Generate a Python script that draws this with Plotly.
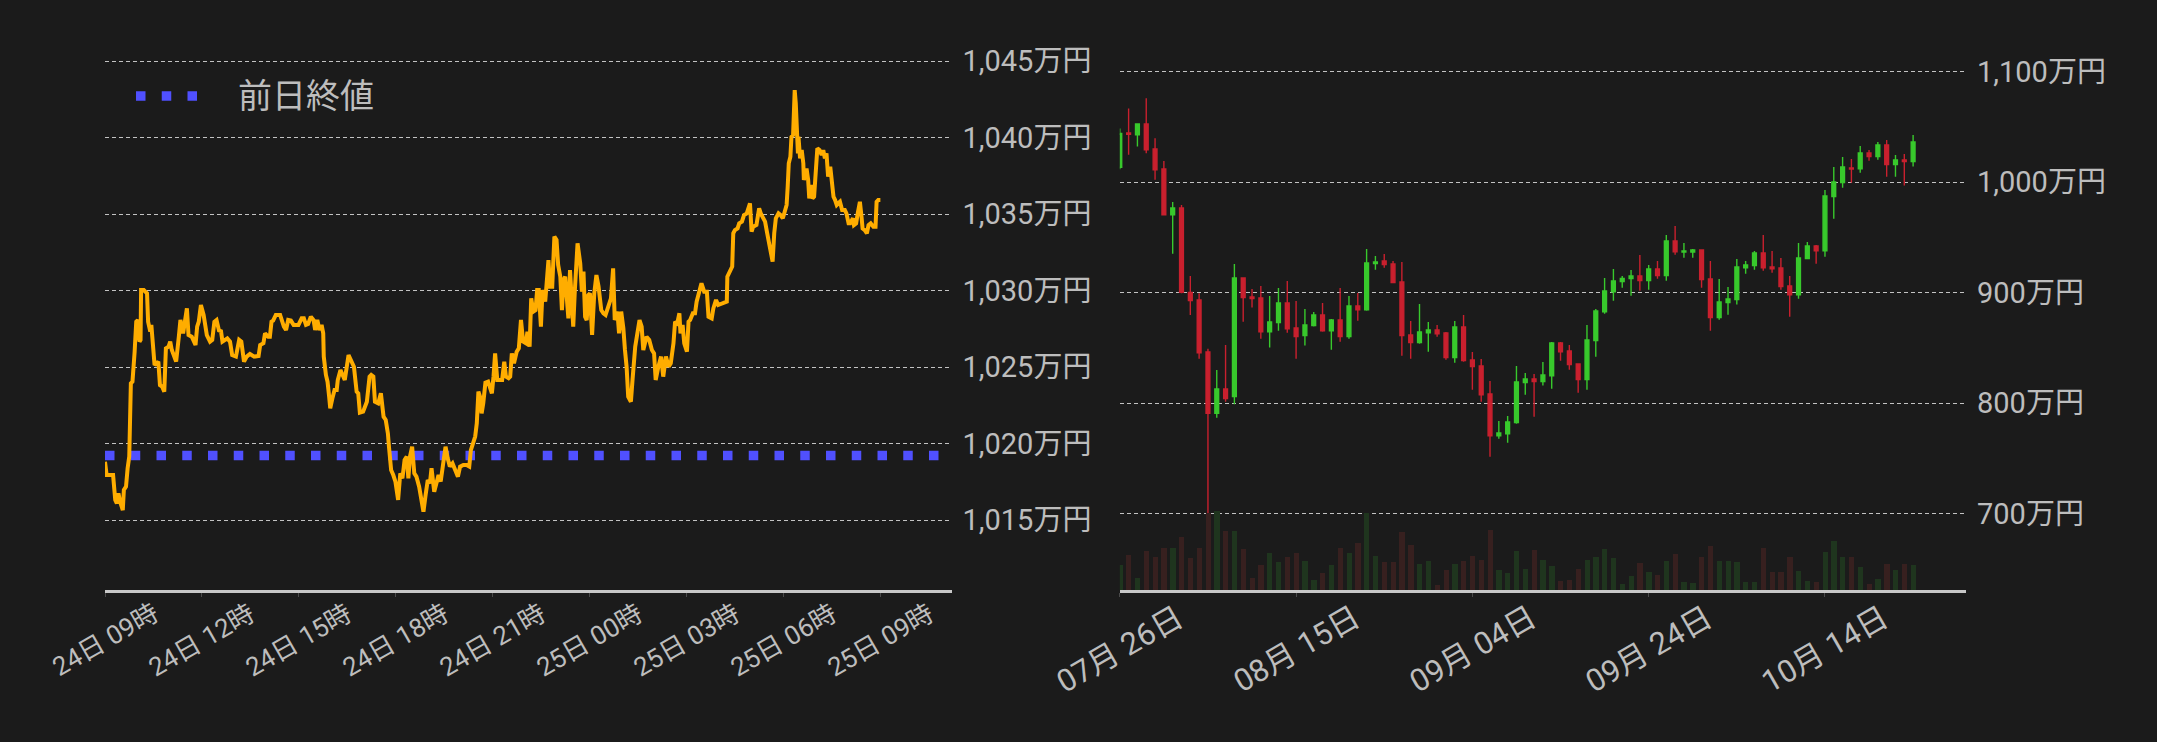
import pandas as pd
import plotly.graph_objects as go

# ---------------- left: intraday price (万円) ----------------
intraday_start = "2024-10-24 09:00"
intraday_minutes = [0, 3, 15, 19, 22, 25, 28, 33, 35, 39, 42, 45, 48, 51, 55, 58, 61, 64, 66, 67, 72, 78, 80, 82, 84, 86, 89, 92, 99, 102, 106, 110, 113, 118, 121, 124, 132, 134, 137, 140, 145, 152, 155, 161, 168, 171, 174, 178, 183, 189, 195, 199, 203, 207, 212, 215, 218, 227, 232, 236, 243, 249, 253, 258, 263, 269, 277, 285, 288, 294, 297, 303, 306, 309, 312, 317, 325, 332, 336, 340, 345, 350, 359, 365, 369, 373, 377, 382, 387, 390, 394, 398, 402, 405, 406, 410, 413, 416, 418, 422, 426, 430, 432, 437, 445, 452, 456, 462, 467, 470, 473, 479, 486, 491,
    494, 498, 501, 507, 512, 517, 521, 525, 527, 531, 535, 539, 544, 548, 552, 556, 560, 563, 566, 570, 574, 578, 583, 588, 591, 595, 599, 603, 606, 611, 614, 619, 623, 626, 629, 632, 636, 640, 645, 650, 655, 659, 665, 671, 676, 679, 687, 690, 693, 696, 699, 702, 706, 711, 718, 721, 724, 728, 733, 737, 741, 744, 749, 752, 755, 759, 764, 768, 772, 776, 781, 784, 788, 791, 795, 799, 802, 805, 809, 812, 817, 820, 823, 826, 830, 834, 838, 841, 845, 848, 851, 854, 857, 860, 863, 866, 869, 872, 877, 882, 885, 888, 891, 894, 897, 900, 904, 908, 912, 916, 921, 925, 929, 934, 939, 943, 946, 951, 954, 958, 962, 965, 968, 971, 976, 979, 984,
    992, 996, 999, 1005, 1010, 1015, 1019, 1022, 1027, 1032, 1036, 1041, 1046, 1050, 1055, 1058, 1062, 1066, 1068, 1072, 1075, 1080, 1083, 1086, 1091, 1095, 1098, 1103, 1107, 1112, 1117, 1120, 1126, 1129, 1134, 1138, 1145, 1149, 1154, 1155, 1160, 1164, 1166, 1169, 1174, 1177, 1182, 1186, 1191, 1194, 1197, 1200, 1203, 1209, 1214, 1217, 1222, 1225, 1229, 1234, 1239, 1242, 1245, 1250, 1254, 1258, 1262, 1265,
    1267, 1269, 1272, 1274, 1277, 1280, 1282, 1284, 1286, 1287, 1290, 1293, 1296, 1297, 1302, 1305, 1307, 1310, 1313, 1316, 1319, 1322, 1326, 1330, 1333, 1336, 1339, 1342, 1346, 1349, 1352, 1355, 1358, 1361, 1364, 1368, 1373, 1376, 1380, 1383, 1388, 1390, 1394, 1397, 1401, 1404, 1406, 1410, 1414, 1417, 1421, 1426, 1430, 1432, 1435, 1439]
intraday_price = [1018.83, 1017.96, 1017.96, 1016.33, 1016.11, 1016.76, 1016.22, 1015.67, 1016.98, 1017.20, 1018.40, 1019.16, 1023.95, 1024.06, 1026.02, 1027.98, 1028.09, 1026.68, 1026.79, 1030.05, 1030.05, 1029.84, 1027.98, 1027.66, 1027.33, 1027.77, 1026.35, 1025.15, 1025.37, 1023.84, 1023.74, 1023.41, 1026.24, 1026.35, 1026.68, 1026.13, 1025.37, 1026.35, 1027.00, 1028.09, 1027.22, 1028.85, 1027.11, 1027.00, 1026.46, 1027.66, 1027.98, 1029.07, 1028.42, 1027.11, 1026.68, 1026.79, 1027.98, 1028.09, 1027.33, 1027.44, 1026.68, 1026.89, 1026.68, 1025.80, 1025.70, 1026.79, 1026.68, 1025.37, 1025.70, 1025.87, 1025.70, 1025.74, 1026.46, 1026.57, 1027.22, 1027.00, 1027.00, 1027.98, 1028.05, 1028.42, 1028.42, 1027.66, 1027.44, 1028.09, 1028.05, 1027.77, 1027.77, 1028.20, 1028.20, 1027.77, 1027.83, 1028.31, 1028.09, 1027.44, 1028.09, 1027.44, 1027.77, 1027.22, 1025.70, 1024.50, 1024.06, 1023.08, 1022.32, 1022.97, 1023.52, 1023.52, 1024.17, 1024.82, 1024.17, 1025.80, 1025.48, 1025.04, 1023.41, 1023.30, 1022.04, 1022.10, 1022.75, 1024.39,
    1024.50, 1024.39, 1022.75, 1022.64, 1023.30, 1021.77, 1021.56, 1020.68, 1019.81, 1018.29, 1017.96, 1017.53, 1016.33, 1018.07, 1017.74, 1018.94, 1019.16, 1017.74, 1019.16, 1019.81, 1018.07, 1017.85, 1017.20, 1016.33, 1015.56, 1016.65, 1017.63, 1017.42, 1018.40, 1016.87, 1017.31, 1017.96, 1017.53, 1018.29, 1019.27, 1019.81, 1019.05, 1018.51, 1018.72, 1018.29, 1017.85, 1018.51, 1018.61, 1018.61, 1018.51, 1019.59, 1020.47, 1021.34, 1023.41, 1023.08, 1021.99, 1022.65, 1023.99, 1024.06, 1023.30, 1024.39, 1025.91, 1024.17, 1024.17, 1024.17, 1025.37, 1024.39, 1024.28, 1024.39, 1025.91, 1025.26, 1026.02, 1026.24, 1028.09, 1026.68, 1026.57, 1027.33, 1026.35, 1029.51, 1028.64, 1028.74, 1030.05, 1030.05, 1027.66, 1030.05, 1029.29, 1030.38, 1032.01, 1030.27, 1030.27, 1033.54, 1033.32, 1031.69, 1030.92, 1028.74, 1030.71, 1030.92, 1029.62, 1028.20, 1031.36, 1029.18, 1027.66, 1030.05, 1033.10, 1031.79, 1029.94, 1031.25, 1028.31, 1028.09, 1029.72, 1029.83, 1027.11, 1029.83, 1031.03, 1030.27, 1028.74, 1028.53, 1028.42, 1028.96, 1029.51, 1031.47, 1028.09, 1028.64, 1027.22, 1028.64, 1027.55, 1026.13, 1025.04, 1023.08, 1022.75, 1024.17, 1026.35,
    1028.09, 1027.66, 1026.13, 1027.00, 1026.79, 1026.13, 1025.91, 1024.17, 1025.04, 1025.70, 1024.39, 1025.70, 1025.04, 1025.26, 1026.57, 1027.98, 1027.87, 1028.53, 1027.22, 1027.77, 1026.57, 1026.02, 1027.98, 1028.09, 1028.53, 1028.53, 1029.29, 1030.05, 1030.49, 1029.94, 1029.94, 1028.31, 1028.20, 1028.85, 1029.40, 1029.07, 1029.18, 1029.18, 1029.29, 1030.92, 1031.25, 1031.58, 1033.76, 1033.97, 1034.08, 1034.41, 1034.52, 1034.95, 1035.06, 1035.50, 1035.72, 1033.87, 1034.19, 1034.30, 1035.39, 1035.06, 1034.63, 1034.52, 1033.76, 1032.88, 1031.90, 1033.76, 1034.74, 1035.06, 1034.95, 1034.74, 1035.17, 1035.61,
    1036.81, 1038.33, 1038.77, 1040.07, 1040.18, 1043.12, 1042.25, 1040.07, 1038.98, 1040.07, 1038.66, 1039.20, 1038.33, 1037.24, 1038.00, 1037.24, 1036.04, 1036.92, 1036.04, 1036.15, 1038.11, 1039.31, 1039.20, 1038.87, 1039.20, 1038.66, 1038.98, 1037.46, 1038.11, 1036.70, 1036.15, 1035.93, 1035.61, 1035.72, 1035.82, 1035.28, 1035.28, 1035.06, 1034.41, 1034.41, 1034.74, 1034.30, 1034.41, 1035.06, 1035.82, 1034.84, 1034.08, 1033.97, 1033.76, 1034.30, 1034.41, 1034.19, 1034.19, 1035.82, 1035.93, 1035.93]
prev_close = 1019.24
intraday_range = ["2024-10-24 09:00", "2024-10-25 11:11"]
left_tick_times = ["2024-10-24 09:00", "2024-10-24 12:00", "2024-10-24 15:00", "2024-10-24 18:00",
                   "2024-10-24 21:00", "2024-10-25 00:00", "2024-10-25 03:00", "2024-10-25 06:00",
                   "2024-10-25 09:00"]
left_tick_labels = ["24日 09時", "24日 12時", "24日 15時", "24日 18時", "24日 21時",
                    "25日 00時", "25日 03時", "25日 06時", "25日 09時"]

# ---------------- right: daily candles (万円) ----------------
daily_start = "2024-07-26"
daily_open = [1013.5, 1044.6, 1043.1, 1052.8, 1030.1, 1012.0, 970.7, 976.7, 900.4, 893.5, 846.4, 790.9, 812.9, 806.0, 913.4, 896.2, 895.3, 864.8, 873.0, 890.8, 868.1, 861.2, 870.3, 879.9, 865.7, 875.4, 860.3, 888.1, 884.7, 926.4, 928.8, 926.1, 909.8, 861.8, 854.9, 863.9, 866.3, 863.6, 841.3, 869.1, 839.2, 833.8, 808.4, 770.7, 772.5, 782.5, 818.7, 822.0, 819.6, 825.0, 854.6, 847.3, 835.6, 821.4, 856.7, 882.9, 901.0, 910.1, 912.8, 915.2, 911.0, 921.5, 915.5, 946.9, 936.9, 936.9, 938.7, 912.5, 877.5, 891.1, 893.8, 922.7, 924.6, 936.0, 923.4, 922.4, 906.2, 898.3, 930.9, 942.4, 938.1, 987.0, 999.7, 1012.9, 1012.3, 1026.5, 1023.2, 1033.8, 1016.0, 1020.2, 1018.7]
daily_high = [1048.8, 1066.9, 1052.8, 1076.0, 1039.8, 1019.3, 982.2, 979.5, 915.2, 899.5, 849.4, 830.1, 852.8, 926.1, 913.4, 903.4, 906.2, 897.1, 904.3, 910.7, 892.6, 885.3, 882.6, 890.8, 876.3, 904.3, 897.1, 899.8, 939.6, 933.3, 935.1, 928.8, 927.9, 874.5, 889.9, 873.6, 870.9, 864.5, 874.5, 879.9, 846.4, 840.1, 820.2, 784.0, 788.5, 833.8, 827.4, 826.5, 837.4, 855.5, 855.5, 852.8, 835.6, 870.9, 885.3, 913.4, 921.5, 915.2, 920.6, 934.2, 925.2, 928.8, 952.3, 960.5, 945.1, 939.6, 938.7, 928.8, 912.5, 905.3, 930.6, 928.8, 937.8, 952.3, 937.8, 931.5, 915.2, 945.1, 946.0, 943.3, 993.0, 1013.9, 1022.9, 1021.1, 1032.9, 1029.2, 1036.5, 1038.3, 1024.7, 1025.6, 1042.8]
daily_low = [1011.7, 1025.0, 1032.3, 1026.2, 1002.4, 970.5, 935.4, 899.5, 879.9, 840.4, 700.0, 787.0, 801.5, 799.1, 873.9, 886.6, 858.5, 850.4, 865.7, 863.9, 840.4, 852.2, 869.4, 864.8, 848.5, 855.8, 858.5, 874.8, 883.8, 920.9, 922.7, 909.0, 843.1, 840.4, 854.0, 846.7, 860.3, 839.5, 836.8, 837.7, 812.3, 801.5, 751.7, 768.0, 764.4, 781.6, 807.8, 787.9, 816.0, 813.2, 838.6, 830.4, 809.6, 812.3, 842.2, 881.1, 892.9, 904.6, 897.4, 901.9, 902.8, 912.8, 911.0, 934.5, 931.8, 931.8, 904.6, 865.7, 875.7, 880.2, 889.3, 917.3, 920.9, 920.0, 918.2, 902.8, 878.4, 894.7, 930.9, 926.4, 932.7, 967.1, 995.1, 999.7, 1008.7, 1019.6, 1020.5, 1005.1, 1005.1, 997.0, 1014.2]
daily_close = [1044.3, 1043.4, 1052.8, 1029.5, 1011.4, 970.7, 976.7, 900.4, 892.9, 845.8, 790.9, 812.9, 804.2, 913.4, 895.6, 894.7, 864.8, 873.6, 890.8, 867.5, 860.3, 870.9, 879.9, 865.7, 875.4, 860.3, 888.1, 884.7, 927.0, 927.9, 925.5, 909.2, 861.2, 854.9, 864.5, 866.3, 863.0, 841.3, 869.1, 838.6, 833.2, 807.8, 770.7, 773.1, 783.1, 819.3, 822.0, 819.6, 825.6, 854.6, 846.7, 835.0, 821.4, 857.3, 883.5, 901.6, 910.7, 913.1, 915.2, 911.0, 921.5, 915.5, 946.9, 937.2, 937.8, 938.7, 911.9, 877.5, 891.7, 894.4, 923.4, 925.2, 936.0, 922.7, 921.8, 905.6, 898.3, 931.5, 942.4, 938.1, 987.6, 1000.3, 1013.9, 1012.0, 1026.5, 1023.2, 1033.8, 1016.0, 1020.2, 1018.7, 1036.5]
daily_volume = [72, 102, 36, 114, 96, 123, 123, 156, 93, 123, 227, 230, 174, 174, 120, 36, 72, 108, 81, 96, 108, 84, 30, 51, 72, 123, 108, 138, 225, 99, 81, 81, 171, 132, 75, 84, 15, 60, 75, 84, 99, 87, 177, 60, 51, 114, 63, 117, 87, 69, 27, 30, 63, 87, 96, 120, 93, 18, 42, 78, 54, 45, 84, 105, 24, 21, 96, 129, 84, 84, 81, 24, 24, 123, 54, 54, 96, 57, 27, 24, 111, 144, 96, 96, 66, 18, 33, 75, 60, 75, 72]
daily_range = ["2024-07-26", "2024-10-30"]
right_tick_dates = ["2024-07-26", "2024-08-15", "2024-09-04", "2024-09-24", "2024-10-14"]
right_tick_labels = ["07月 26日", "08月 15日", "09月 04日", "09月 24日", "10月 14日"]

# ---------------- styles ----------------
BG = "#1b1b1b"
TXT = "#bdbdbd"
GRID = "rgba(225,225,225,0.85)"
ORANGE = "#ffad00"
BLUE = "#5050ff"
UP = "#38c92c"
DOWN = "#c9202e"
UP_VOL = "#1f351e"
DOWN_VOL = "#37201f"
FONT = "Roboto, 'Noto Sans CJK JP', sans-serif"
W, H = 2157, 742

t0 = pd.Timestamp(intraday_start)
intraday_time = t0 + pd.to_timedelta(intraday_minutes, unit="m")
daily_dates = pd.date_range(daily_start, periods=len(daily_close), freq="D")
vol_colors = [UP_VOL if c >= o else DOWN_VOL for o, c in zip(daily_open, daily_close)]

fig = go.Figure()

fig.add_trace(go.Scatter(
    x=intraday_range, y=[prev_close, prev_close], mode="lines",
    line=dict(color=BLUE, width=9.5, dash="9.5px,16.25px"),
    xaxis="x", yaxis="y", showlegend=False, hoverinfo="skip"))
fig.add_trace(go.Scatter(
    x=intraday_time, y=intraday_price, mode="lines",
    line=dict(color=ORANGE, width=4), xaxis="x", yaxis="y", showlegend=False))

fig.add_trace(go.Bar(
    x=daily_dates, y=daily_volume, marker=dict(color=vol_colors, line=dict(width=0)),
    width=0.6 * 86400000, xaxis="x2", yaxis="y3", showlegend=False))
fig.add_trace(go.Candlestick(
    x=daily_dates, open=daily_open, high=daily_high, low=daily_low, close=daily_close,
    increasing=dict(line=dict(color=UP, width=1.4), fillcolor=UP),
    decreasing=dict(line=dict(color=DOWN, width=1.4), fillcolor=DOWN),
    whiskerwidth=0, xaxis="x2", yaxis="y2", showlegend=False))

tickfont_y = dict(family=FONT, size=29, color=TXT)
xlabel_font_left = dict(family=FONT, size=26, color=TXT)
xlabel_font_right = dict(family=FONT, size=31, color=TXT)

xa_common = dict(showgrid=False, zeroline=False, showline=True, linecolor="#c8c8c8",
                 linewidth=2.5, ticks="outside", ticklen=4, tickcolor="#4a4a4a",
                 tickwidth=1, showticklabels=False)
ya_common = dict(side="right", showgrid=True, gridcolor=GRID, gridwidth=1,
                 griddash="4px,3px", zeroline=False, showline=False, ticks="",
                 tickformat=",d", ticksuffix="万円", tickfont=tickfont_y,
                 ticklabelstandoff=10)

y_dom = [(H - 590) / H, (H - 50) / H]

fig.update_layout(
    width=W, height=H, autosize=False,
    paper_bgcolor=BG, plot_bgcolor=BG,
    margin=dict(l=0, r=0, t=0, b=0, autoexpand=False),
    font=dict(family=FONT, color=TXT),
    showlegend=False, boxgap=0.38, bargap=0,
    xaxis=dict(xa_common, domain=[105 / W, 951.5 / W], anchor="y", type="date",
               range=intraday_range, tickvals=left_tick_times),
    yaxis=dict(ya_common, domain=y_dom, anchor="x", range=[1010.444, 1045.739],
               tick0=1015, dtick=5),
    xaxis2=dict(xa_common, domain=[1119.8 / W, 1966 / W], anchor="y2", type="date",
                range=daily_range, tickvals=right_tick_dates,
                rangeslider=dict(visible=False)),
    yaxis2=dict(ya_common, domain=y_dom, anchor="x2", range=[631.04, 1119.73],
                tick0=700, dtick=100),
    yaxis3=dict(domain=y_dom, anchor="x2", overlaying="y2", range=[0, 1582],
                visible=False, showgrid=False),
)

# rotated x tick labels, centred on their ticks
for tv, tl in zip(left_tick_times, left_tick_labels):
    fig.add_annotation(text=tl, x=tv, xref="x", y=1 - 640 / H, yref="paper",
                       textangle=-30, xanchor="center", yanchor="middle",
                       showarrow=False, font=xlabel_font_left)
for tv, tl in zip(right_tick_dates, right_tick_labels):
    fig.add_annotation(text=tl, x=tv, xref="x2", y=1 - 649 / H, yref="paper",
                       textangle=-30, xanchor="center", yanchor="middle",
                       showarrow=False, font=xlabel_font_right)

# legend: previous-close sample + label
leg_y = 1 - 96 / H
fig.add_shape(type="line", xref="paper", yref="paper", x0=136 / W, x1=197.5 / W,
              y0=leg_y, y1=leg_y, line=dict(color=BLUE, width=9.5, dash="9.5px,16.25px"))
fig.add_annotation(text="前日終値", xref="paper", yref="paper", x=236 / W, y=leg_y,
                   xanchor="left", yanchor="middle", showarrow=False,
                   font=dict(family=FONT, size=34, color=TXT))

fig.write_html("out.html", config={"displayModeBar": False},
               post_script="document.body.style.margin='0';document.body.style.overflow='hidden';")
